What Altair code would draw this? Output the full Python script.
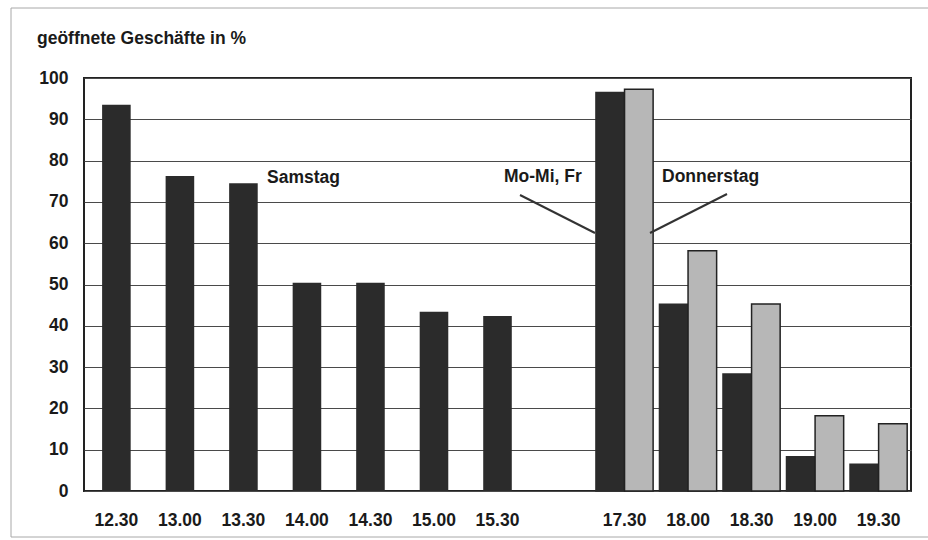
import altair as alt
import pandas as pd

# ---- data ----
categories = ["12.30", "13.00", "13.30", "14.00", "14.30", "15.00", "15.30", "",
              "17.30", "18.00", "18.30", "19.00", "19.30"]
sat_times = ["12.30", "13.00", "13.30", "14.00", "14.30", "15.00", "15.30"]
sat_values = [93.5, 76.3, 74.5, 50.4, 50.4, 43.4, 42.4]
wk_times = ["17.30", "18.00", "18.30", "19.00", "19.30"]
momifr_values = [96.5, 45.2, 28.3, 8.3, 6.5]
donnerstag_values = [97.3, 58.2, 45.3, 18.2, 16.3]
series_names = ["Mo-Mi, Fr", "Donnerstag"]
y_ticks = [0, 10, 20, 30, 40, 50, 60, 70, 80, 90, 100]
title_text = "geöffnete Geschäfte in %"

sat_df = pd.DataFrame({"time": sat_times, "value": sat_values})
wk_df = pd.DataFrame({
    "time": wk_times * 2,
    "series": [series_names[0]] * len(wk_times) + [series_names[1]] * len(wk_times),
    "value": momifr_values + donnerstag_values,
})
one = pd.DataFrame({"a": [0]})

FONT = "Liberation Sans"
TXT = "#1a1a1a"
DARK = "#2b2b2b"
LIGHT = "#b7b7b7"

xscale = alt.Scale(domain=categories, paddingInner=0.1, paddingOuter=0.06)
yscale = alt.Scale(domain=[0, 100], nice=False)

x_axis = alt.Axis(title=None, labelFont=FONT, labelFontSize=17.5, labelFontWeight="bold",
                  labelColor=TXT, labelPadding=20, ticks=False, domain=False, grid=False,
                  labelAngle=0)
y_axis = alt.Axis(title=None, values=y_ticks, labelFont=FONT, labelFontSize=17.5,
                  labelFontWeight="bold", labelColor=TXT, labelPadding=16, ticks=False,
                  domain=False, grid=True, gridColor="#4a4a4a", gridWidth=1)

frame = alt.Chart(one).mark_rect(fillOpacity=0, stroke="#a8a8a8", strokeWidth=1).encode(
    x=alt.value(-73), x2=alt.value(850), y=alt.value(-70), y2=alt.value(459))

sat = alt.Chart(sat_df).mark_bar(color=DARK, width=alt.RelativeBandSize(0.5)).encode(
    x=alt.X("time:N", scale=xscale, axis=x_axis, sort=categories),
    y=alt.Y("value:Q", scale=yscale, axis=y_axis),
)

wk = alt.Chart(wk_df).mark_bar(strokeWidth=1.5).encode(
    x=alt.X("time:N", scale=xscale, axis=x_axis, sort=categories),
    xOffset=alt.XOffset("series:N", scale=alt.Scale(domain=series_names, paddingInner=0, paddingOuter=0)),
    y=alt.Y("value:Q", scale=yscale, axis=y_axis),
    color=alt.Color("series:N", scale=alt.Scale(domain=series_names, range=[DARK, LIGHT]), legend=None),
    stroke=alt.Stroke("series:N", scale=alt.Scale(domain=series_names, range=[DARK, "#222222"]), legend=None),
)

def label(txt, x, y, size=17.5):
    return alt.Chart(pd.DataFrame({"t": [txt]})).mark_text(
        font=FONT, fontSize=size, fontWeight="bold", color=TXT, align="left", baseline="alphabetic"
    ).encode(text="t:N", x=alt.value(x), y=alt.value(y))

title = label(title_text, -47, -34, 17.5)
t_sam = label("Samstag", 183, 105)
t_mo = label(series_names[0], 420, 104)
t_do = label(series_names[1], 578, 104)

line_mo = alt.Chart(one).mark_rule(color="#333", strokeWidth=2).encode(
    x=alt.value(436), y=alt.value(117), x2=alt.value(511), y2=alt.value(155))
line_do = alt.Chart(one).mark_rule(color="#333", strokeWidth=2).encode(
    x=alt.value(643), y=alt.value(116), x2=alt.value(566), y2=alt.value(155))

chart = alt.layer(frame, sat, wk, line_mo, line_do, t_sam, t_mo, t_do, title).properties(
    width=827, height=413,
    autosize=alt.AutoSizeParams(type="none"),
    padding={"left": 84, "top": 78, "right": 17, "bottom": 49},
    background="white",
).configure_view(stroke="#222", strokeWidth=2)

chart.save("out.html", embed_options={"renderer": "svg", "actions": False})
